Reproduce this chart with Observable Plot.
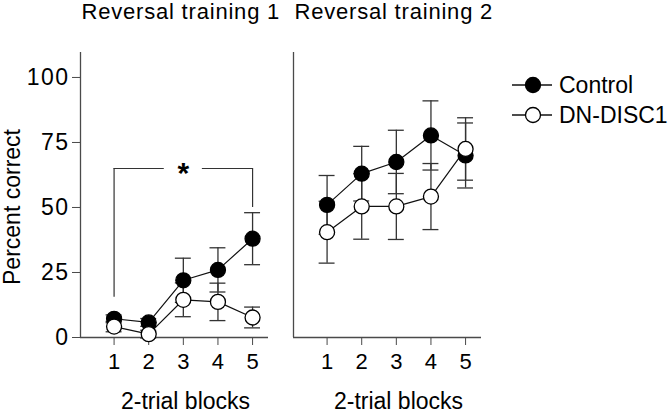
<!DOCTYPE html>
<html><head><meta charset="utf-8">
<script src="https://cdn.jsdelivr.net/npm/d3@7"></script>
<script src="https://cdn.jsdelivr.net/npm/@observablehq/plot@0.6"></script>
<style>
body{margin:0;background:#fff;}
#wrap{position:relative;width:670px;height:413px;font-family:"Liberation Sans",Arial,sans-serif;color:#000;}
#chart{position:absolute;left:0;top:0;}
#legend{position:absolute;left:505px;top:70px;}
</style></head><body><div id="wrap"><div id="chart"></div><div id="legend"></div></div>
<script>
// ---- data ----
const panels = ["Reversal training 1", "Reversal training 2"];
const blocks = [1, 2, 3, 4, 5];
const groups = ["Control", "DN-DISC1"];
const rt1Control    = [7.2, 5.8, 22, 26, 38];
const rt1ControlSem = [1.5, 1.5, 8.5, 8.5, 10];
const rt1Dn         = [4.2, 1.3, 14.5, 13.7, 7.7];
const rt1DnSem      = [2, 1.5, 6.5, 7.2, 4];
const rt2Control    = [51, 63, 67.5, 77.7, 70];
const rt2ControlSem = [11.3, 10.5, 12.2, 13.3, 12.5];
const rt2Dn         = [40.5, 50.4, 50.4, 54.2, 72.5];
const rt2DnSem      = [11.9, 12.6, 12.7, 12.7, 12];
const yTicks = [0, 25, 50, 75, 100];
const yDomain = [0, 109.6];
const xDomain = [0.03, 5.46];
const xLabel = "2-trial blocks";
const yLabel = "Percent correct";
const sigLabel = "*";
const sigBracket = {x1: 1, x2: 5, y: 65, leftBottom: 15.5, rightBottom: 50, gapLo: 2.45, gapHi: 3.55};

// ---- tidy rows ----
const series = [
  [panels[0], groups[0], rt1Control, rt1ControlSem],
  [panels[0], groups[1], rt1Dn, rt1DnSem],
  [panels[1], groups[0], rt2Control, rt2ControlSem],
  [panels[1], groups[1], rt2Dn, rt2DnSem]
];
const rows = series.flatMap(([panel, group, means, sems]) =>
  blocks.map((block, i) => ({panel, group, block, mean: means[i], sem: sems[i]})));
const ctrlRows = rows.filter(d => d.group === groups[0]);
const dnRows = rows.filter(d => d.group === groups[1]);

const bracketSegs = [
  {x1: sigBracket.x1, x2: sigBracket.gapLo, y: sigBracket.y},
  {x1: sigBracket.gapHi, x2: sigBracket.x2, y: sigBracket.y}
];
const bracketLegs = [
  {x: sigBracket.x1, y1: sigBracket.leftBottom, y2: sigBracket.y},
  {x: sigBracket.x2, y1: sigBracket.rightBottom, y2: sigBracket.y}
];

const axisColor = "#4a4a4a";
const barColor = "#333";
const cap = 0.23;

const chart = Plot.plot({
  width: 670,
  height: 413,
  marginTop: 52,
  marginBottom: 76,
  marginLeft: 80,
  marginRight: 188,
  style: {fontFamily: "'Liberation Sans', Arial, sans-serif", fontSize: "20px", color: "#000", background: "#fff"},
  fx: {domain: panels, paddingInner: 0.117, paddingOuter: 0, axis: null},
  x: {domain: xDomain},
  y: {domain: yDomain},
  marks: [
    Plot.ruleY([0], {stroke: axisColor, strokeWidth: 1.3}),
    Plot.ruleX([xDomain[0]], {stroke: axisColor, strokeWidth: 1.3}),
    Plot.axisY({ticks: yTicks, tickFormat: d => String(d), tickSize: 8, tickPadding: 3, stroke: axisColor, label: null}),
    Plot.axisX({ticks: blocks, tickFormat: d => String(d), tickSize: 8, tickPadding: 8, stroke: axisColor, label: null}),
    // significance bracket
    Plot.ruleY(bracketSegs, {fx: () => panels[0], x1: "x1", x2: "x2", y: "y", stroke: barColor, strokeWidth: 1.2}),
    Plot.ruleX(bracketLegs, {fx: () => panels[0], x: "x", y1: "y1", y2: "y2", stroke: barColor, strokeWidth: 1.2}),
    Plot.text([sigLabel], {fx: () => panels[0], x: () => (sigBracket.x1 + sigBracket.x2) / 2, y: () => sigBracket.y,
      text: d => d, fontSize: 30, fontWeight: "bold", lineAnchor: "bottom", dy: 15}),
    // error bars
    Plot.ruleX(rows, {fx: "panel", x: "block", y1: d => d.mean - d.sem, y2: d => d.mean + d.sem, stroke: barColor, strokeWidth: 1.3}),
    Plot.ruleY(rows, {fx: "panel", y: d => d.mean + d.sem, x1: d => d.block - cap, x2: d => d.block + cap, stroke: barColor, strokeWidth: 1.3}),
    Plot.ruleY(rows, {fx: "panel", y: d => d.mean - d.sem, x1: d => d.block - cap, x2: d => d.block + cap, stroke: barColor, strokeWidth: 1.3}),
    // lines
    Plot.line(rows, {fx: "panel", x: "block", y: "mean", z: "group", stroke: "#111", strokeWidth: 1.2}),
    // dots
    Plot.dot(ctrlRows, {fx: "panel", x: "block", y: "mean", r: 7.5, fill: "#000", stroke: "#000", strokeWidth: 1.3}),
    Plot.dot(dnRows, {fx: "panel", x: "block", y: "mean", r: 7.5, fill: "#fff", stroke: "#000", strokeWidth: 1.3}),
    // titles
    Plot.text(panels, {fx: d => d, text: d => d, frameAnchor: "top-left", textAnchor: "start", lineAnchor: "bottom",
      dy: -34, dx: 1, fontSize: 22}),
    // x labels
    Plot.text(panels, {fx: d => d, text: () => xLabel, frameAnchor: "bottom", lineAnchor: "bottom", dy: 71, dx: 11, fontSize: 23}),
    // y label
    Plot.text([yLabel], {fx: () => panels[0], text: d => d, frameAnchor: "left", textAnchor: "middle", lineAnchor: "middle",
      rotate: -90, dx: -68, dy: 12, fontSize: 23})
  ]
});
// enlarge tick labels (texts whose content is a tick value)
const yTickStr = yTicks.map(String), xTickStr = blocks.map(String);
chart.querySelectorAll("text").forEach(t => {
  const s = t.textContent;
  const anchor = t.getAttribute("text-anchor") || (t.parentNode && t.parentNode.getAttribute("text-anchor"));
  if (panels.includes(s)) { t.style.letterSpacing = "0.8px"; }
  else if (yTickStr.includes(s) && anchor === "end") { t.style.fontSize = "23px"; t.style.letterSpacing = "1.5px"; }
  else if (xTickStr.includes(s)) { t.style.fontSize = "22px"; }
});
document.getElementById("chart").appendChild(chart);

// legend
const lg = d3.select("#legend").append("svg").attr("width", 165).attr("height", 62)
  .style("font-family", "'Liberation Sans', Arial, sans-serif");
groups.forEach((g, i) => {
  const cy = 15 + i * 30;
  const row = lg.append("g");
  row.append("line").attr("x1", 7).attr("x2", 47).attr("y1", cy).attr("y2", cy).attr("stroke", "#111").attr("stroke-width", 1.3);
  row.append("circle").attr("cx", 28).attr("cy", cy).attr("r", 7.5)
    .attr("fill", i === 0 ? "#000" : "#fff").attr("stroke", "#000").attr("stroke-width", 1.3);
  row.append("text").attr("x", 54).attr("y", cy + 8).attr("font-size", 23).text(g);
});
</script></body></html>
